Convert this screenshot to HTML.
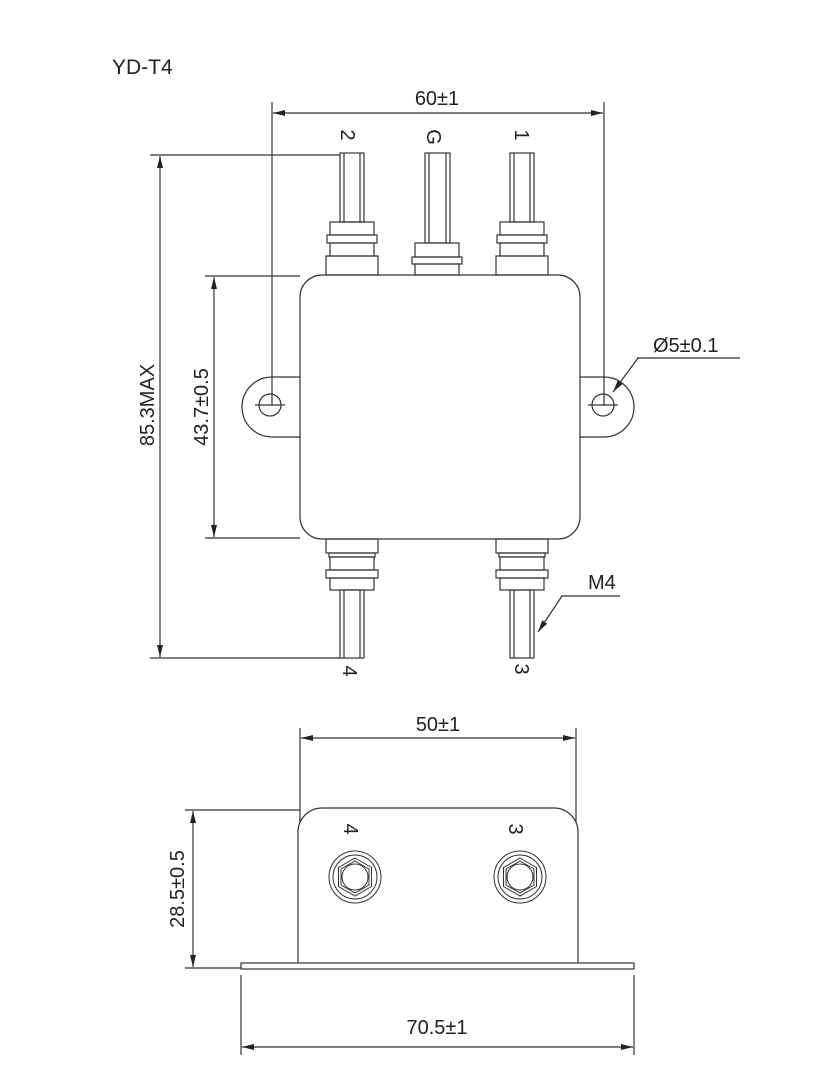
<!DOCTYPE html>
<html><head><meta charset="utf-8"><style>
html,body{margin:0;padding:0;background:#fff;}
svg{display:block;font-family:"Liberation Sans",sans-serif;}
</style></head><body>
<svg width="820" height="1088" viewBox="0 0 820 1088" xmlns="http://www.w3.org/2000/svg">
<defs>
<marker id="a" viewBox="0 0 12 6" refX="12" refY="3" markerWidth="12" markerHeight="6" orient="auto-start-reverse" markerUnits="userSpaceOnUse">
<path d="M0,0 L12,3 L0,6 z" fill="#222"/></marker>
</defs>
<g stroke="#333" stroke-width="1.2" fill="none">
<text x="112" y="74" font-size="21" fill="#222" stroke="none">YD-T4</text>

<!-- 60±1 -->
<line x1="272" y1="102" x2="272" y2="405"/>
<line x1="604" y1="102" x2="604" y2="405"/>
<line x1="273" y1="113" x2="603" y2="113" marker-start="url(#a)" marker-end="url(#a)"/>
<text x="437" y="105" font-size="20" fill="#222" stroke="none" text-anchor="middle">60±1</text>

<!-- 85.3MAX -->
<line x1="150" y1="155" x2="340" y2="155"/>
<line x1="150" y1="658" x2="340" y2="658"/>
<line x1="160" y1="156" x2="160" y2="657" marker-start="url(#a)" marker-end="url(#a)"/>
<text transform="translate(154,405) rotate(-90)" font-size="20" fill="#222" stroke="none" text-anchor="middle">85.3MAX</text>

<!-- 43.7 -->
<line x1="205" y1="276" x2="300" y2="276"/>
<line x1="205" y1="538" x2="300" y2="538"/>
<line x1="214" y1="277" x2="214" y2="537" marker-start="url(#a)" marker-end="url(#a)"/>
<text transform="translate(208,407) rotate(-90)" font-size="20" fill="#222" stroke="none" text-anchor="middle">43.7±0.5</text>

<!-- body -->
<rect x="300" y="275" width="280" height="264" rx="22"/>
<path d="M300,377 L272,377 A30,30 0 0 0 272,437 L300,437"/>
<path d="M580,377 L604,377 A30,30 0 0 1 604,437 L580,437"/>
<circle cx="270" cy="405" r="11"/><line x1="255" y1="405" x2="285" y2="405"/>
<circle cx="603" cy="405" r="11"/><line x1="588" y1="405" x2="618" y2="405"/>

<!-- Ø5 -->
<line x1="638" y1="358" x2="613" y2="392" marker-end="url(#a)"/>
<line x1="637" y1="358" x2="740" y2="358"/>
<text x="653" y="352" font-size="20" fill="#222" stroke="none">Ø5±0.1</text>

<g id="t">
<rect x="340" y="153" width="24" height="69"/><line x1="344" y1="153" x2="344" y2="222"/><line x1="360" y1="153" x2="360" y2="222"/>
<rect x="330" y="222" width="44" height="13"/>
<rect x="327" y="235" width="50" height="8"/>
<rect x="330" y="243" width="44" height="13"/>
<rect x="326" y="256" width="52" height="19"/>
</g>
<use href="#t" x="170"/>
<rect x="425" y="153" width="25" height="90"/><line x1="429" y1="153" x2="429" y2="243"/><line x1="446" y1="153" x2="446" y2="243"/>
<rect x="415" y="243" width="44" height="14"/>
<rect x="412" y="257" width="50" height="7"/>
<rect x="415" y="264" width="44" height="11"/>

<g id="b">
<rect x="326" y="539" width="52" height="14"/>
<rect x="329" y="553" width="46" height="4"/>
<rect x="330" y="557" width="44" height="13"/>
<rect x="326" y="570" width="52" height="8"/>
<rect x="330" y="578" width="44" height="12"/>
<rect x="340" y="590" width="24" height="68"/><line x1="344" y1="590" x2="344" y2="658"/><line x1="360" y1="590" x2="360" y2="658"/>
</g>
<use href="#b" x="170"/>

<g fill="#222" stroke="none" font-size="20" text-anchor="middle">
<text transform="translate(341,135) rotate(90)">2</text>
<text transform="translate(427,137) rotate(90)">G</text>
<text transform="translate(515,135) rotate(90)">1</text>
<text transform="translate(343,671) rotate(90)">4</text>
<text transform="translate(515,669) rotate(90)">3</text>
</g>

<!-- M4 -->
<line x1="562" y1="596" x2="538" y2="632" marker-end="url(#a)"/>
<line x1="561" y1="596" x2="620" y2="596"/>
<text x="588" y="589" font-size="20" fill="#222" stroke="none">M4</text>

<!-- bottom view -->
<line x1="300" y1="728" x2="300" y2="822"/>
<line x1="576" y1="728" x2="576" y2="822"/>
<line x1="301" y1="738" x2="575" y2="738" marker-start="url(#a)" marker-end="url(#a)"/>
<text x="438" y="731" font-size="20" fill="#222" stroke="none" text-anchor="middle">50±1</text>

<path d="M298,963 L298,832 A24,24 0 0 1 322,808 L554,808 A24,24 0 0 1 578,832 L578,963"/>
<rect x="241" y="963" width="393" height="6"/>

<line x1="185" y1="810" x2="300" y2="810"/>
<line x1="185" y1="968" x2="241" y2="968"/>
<line x1="193" y1="811" x2="193" y2="967" marker-start="url(#a)" marker-end="url(#a)"/>
<text transform="translate(184,889) rotate(-90)" font-size="20" fill="#222" stroke="none" text-anchor="middle">28.5±0.5</text>

<line x1="241" y1="975" x2="241" y2="1055"/>
<line x1="634" y1="975" x2="634" y2="1055"/>
<line x1="242" y1="1047" x2="633" y2="1047" marker-start="url(#a)" marker-end="url(#a)"/>
<text x="437" y="1034" font-size="20" fill="#222" stroke="none" text-anchor="middle">70.5±1</text>

<g id="n" stroke-width="1">
<circle cx="355" cy="877" r="26"/><circle cx="355" cy="877" r="22"/>
<polygon points="355,858 371.5,867.5 371.5,886.5 355,896 338.5,886.5 338.5,867.5"/>
<polygon points="355,861 369,869 369,885 355,893 341,885 341,869"/>
<circle cx="355" cy="877" r="13"/>
</g>
<use href="#n" x="165"/>
<g fill="#222" stroke="none" font-size="20" text-anchor="middle">
<text transform="translate(344,829) rotate(90)">4</text>
<text transform="translate(509,829) rotate(90)">3</text>
</g>
</g>
</svg>
</body></html>
